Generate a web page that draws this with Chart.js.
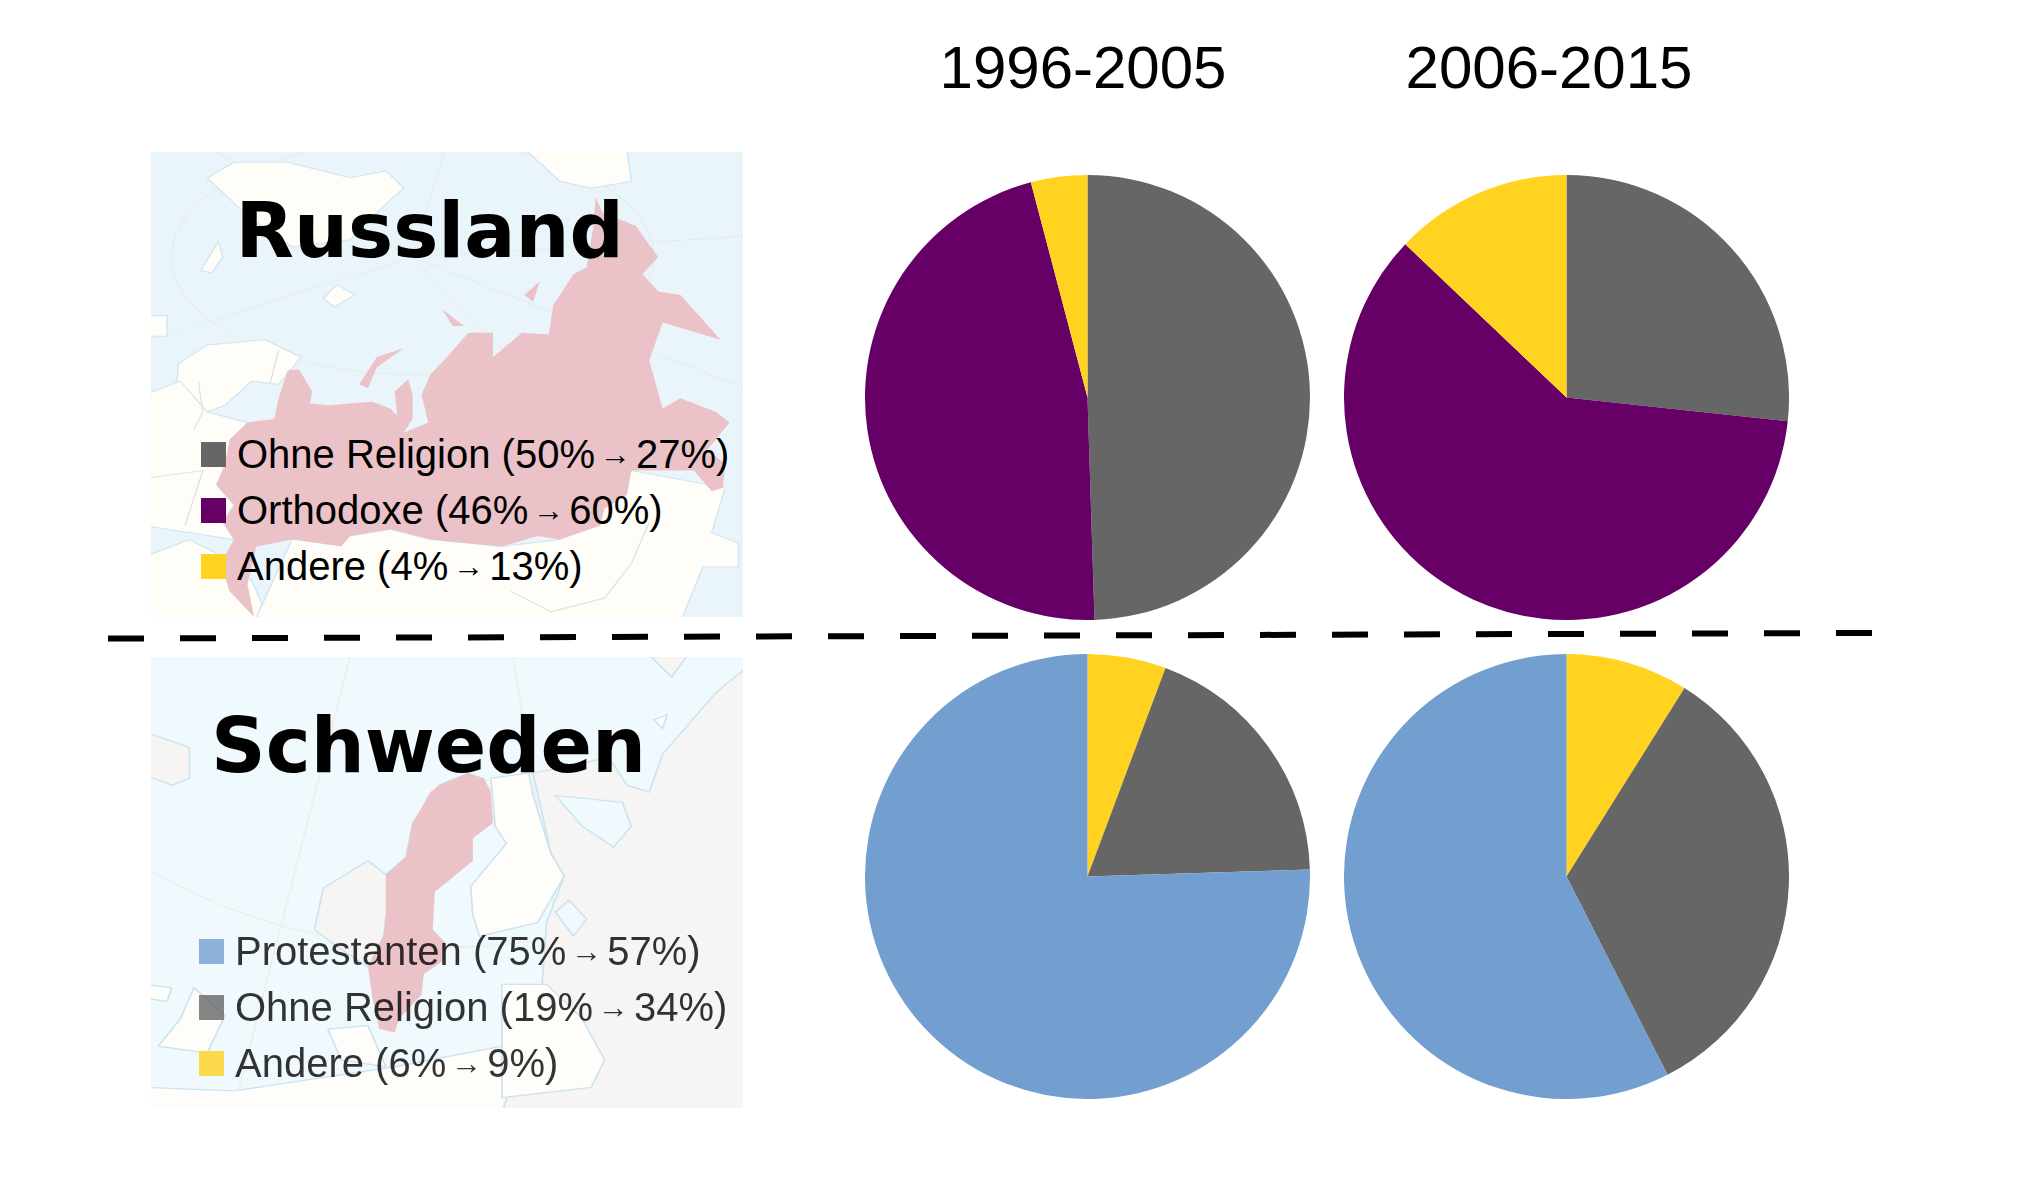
<!DOCTYPE html>
<html>
<head>
<meta charset="utf-8">
<script src="https://cdn.jsdelivr.net/npm/chart.js@4"></script>
<style>
  html, body { margin: 0; background: #fff; }
  #page { position: relative; width: 2022px; height: 1185px; overflow: hidden; font-family: "Liberation Sans", sans-serif; }
  .map { position: absolute; left: 151px; width: 592px; }
  #mapRu { top: 152px; height: 465px; }
  #mapSe { top: 657px; height: 451px; }
  #legendSe { opacity: 0.8; }
  .pie { position: absolute; }
  .period { position: absolute; top: 31px; font-size: 60px; line-height: 74px; width: 400px; text-align: center; color: #000; }
  .country { position: absolute; font: bold 75.9px "DejaVu Sans"; color: #000; white-space: nowrap; }
  .row { position: absolute; font-size: 40px; line-height: 46px; white-space: nowrap; }
  .row i { position: absolute; left: -36px; top: 11px; width: 24.5px; height: 25px; }
  .arrow { font-size: 31px; margin: 0 5px; vertical-align: 3px; }
</style>
</head>
<body>
<div id="page">
  <svg class="map" id="mapRu" viewBox="114 95 1326 1350" preserveAspectRatio="none">
    <rect x="114" y="95" width="1326" height="1350" fill="#e9f5fb"/>
    <g fill="none" stroke="#e4eee9" stroke-width="3">
      <ellipse cx="700" cy="400" rx="540" ry="340"/>
      <path d="M700 400L260 95M700 400L770 95M700 400L1440 340M700 400L1440 780M700 400L114 640M700 400L1000 800"/>
    </g>
    <g fill="#fefdf8" stroke="#cfe5f0" stroke-width="3">
      <path d="M240 170L300 125L420 125L560 170L640 150L680 200L620 270L560 350L430 370L330 280Z"/>
      <path d="M950 85L1180 85L1190 180L1100 200L1030 180Z"/>
      <path d="M225 440L265 355L275 400L250 445Z"/>
      <path d="M500 520L530 480L570 510L525 545Z"/>
      <path d="M100 570L150 570L150 630L100 630Z"/>
      <path d="M175 710L240 655L370 640L450 690L400 770L340 760L280 830L240 850L200 800L170 815Z"/>
      <path d="M100 800L180 760L240 850L330 880L300 1000L260 1060L300 1120L275 1170L300 1220L100 1180Z"/>
      <path d="M100 1270L200 1220L260 1260L340 1340L380 1460L100 1460Z"/>
      <path d="M345 1460L430 1220L560 1210L650 1190L740 1220L900 1240L1030 1220L1190 1020L1400 1070L1370 1200L1430 1230L1430 1300L1350 1300L1300 1460Z"/>
    </g>
    <g fill="none" stroke="#e3e0da" stroke-width="3">
      <path d="M220 760L230 850L210 900M400 670L380 770M114 1040L230 1020L190 1180M920 1370L1010 1430L1130 1390L1190 1290L1230 1170"/>
    </g>
    <path fill="#ebc2c8" d="M345 1445L290 1370L270 1290L300 1220L275 1170L300 1120L260 1060L280 1000L290 930L330 880L390 870L400 810L420 730L445 725L475 790L470 825L510 830L610 820L650 840L665 860L660 790L690 755L700 800L700 870L680 910L735 880L720 800L740 740L770 700L825 620L880 620L880 690L945 620L1005 625L1015 540L1060 450L1090 430L1105 310L1110 225L1125 270L1200 310L1250 400L1215 450L1250 500L1300 510L1390 640L1260 590L1230 700L1260 840L1300 810L1380 850L1410 880L1360 960L1400 1000L1395 1070L1370 1080L1330 1020L1190 1020L1180 1090L1130 1130L1120 1180L1030 1220L980 1210L900 1240L740 1220L650 1190L560 1210L540 1240L430 1220L350 1240L330 1350Z"/>
    <path fill="#ebc2c8" d="M580 770L620 690L680 665L620 720L600 780Z M765 550L815 600L790 600Z M950 510L985 470L970 530Z"/>
  </svg>
  <svg class="map" id="mapSe" viewBox="114 47 1326 1313" preserveAspectRatio="none">
    <rect x="114" y="47" width="1326" height="1313" fill="#f0f9fd"/>
    <g fill="none" stroke="#eeeeea" stroke-width="4">
      <path d="M114 670Q700 1100 1440 700M560 47L300 1360M925 47L1090 1360"/>
    </g>
    <g fill="#f6f5f3" stroke="#cde4f0" stroke-width="4">
      <path d="M970 385L1140 340L1180 420L1230 440L1260 330L1380 150L1455 70L1455 1375L900 1375L990 1000L1000 820L1040 685L1010 620Z"/>
      <path d="M100 265L200 310L200 400L160 420L100 390Z"/>
      <path d="M1225 35L1320 35L1280 105Z"/>
      <path d="M825 385L760 420L700 530L685 630L640 680L600 640L500 720L480 840L520 880L600 950L635 860L640 800Z"/>
    </g>
    <g fill="#fefdf9" stroke="#cde4f0" stroke-width="4">
      <path d="M875 400L960 385L970 450L1010 620L1040 685L980 820L850 860L835 800L830 715L910 590L885 540Z"/>
      <path d="M210 1010L280 1090L240 1200L130 1180L180 1100Z"/>
      <path d="M100 1000L160 1010L150 1050L100 1040Z"/>
      <path d="M100 1300L300 1310L660 1240L900 1180L990 1000L900 1375L100 1375Z"/>
      <path d="M510 1130L600 1120L640 1240L540 1220Z"/>
      <path d="M900 1000L1000 1000L1080 1100L1130 1220L1100 1300L900 1330Z"/>
      <path d="M1240 230L1270 215L1260 255Z"/>
      <path d="M1020 790L1050 755L1090 810L1060 860Z" fill="#f0f9fd"/>
      <path d="M1020 450L1170 470L1190 540L1150 600L1080 540Z" fill="#f0f9fd"/>
    </g>
    <path fill="#ebc2c8" d="M825 385L860 400L875 440L880 530L835 575L835 640L765 715L750 730L745 840L775 880L770 930L725 970L720 1030L670 1100L660 1140L625 1130L610 1040L600 950L635 860L640 800L640 680L685 630L700 530L740 440L760 420Z"/>
  </svg>
  <div id="legendRu"></div>
  <div id="legendSe"></div>
  <div class="country" style="left:235.5px;top:187px">Russland</div>
  <div class="country" style="left:211px;top:702px">Schweden</div>
  <div class="period" style="left:883px">1996-2005</div>
  <div class="period" style="left:1349px">2006-2015</div>
  <canvas class="pie" id="ruEarly" width="445" height="445" style="left:865px;top:175px"></canvas>
  <canvas class="pie" id="ruLate" width="445" height="445" style="left:1344px;top:175px"></canvas>
  <canvas class="pie" id="seEarly" width="445" height="445" style="left:865px;top:654px"></canvas>
  <canvas class="pie" id="seLate" width="445" height="445" style="left:1344px;top:654px"></canvas>
  <svg style="position:absolute;left:0;top:0" width="2022" height="1185">
    <line x1="108" y1="638.5" x2="1872" y2="633" stroke="#000" stroke-width="6" stroke-dasharray="36 36"/>
  </svg>
</div>
<script>
const grey = '#666666', purple = '#660066', yellow = '#ffd320', blue = '#729fcf';

const ruLabels = ['Ohne Religion', 'Orthodoxe', 'Andere'];
const ruColors = [grey, purple, yellow];
const ruStartText = ['50%', '46%', '4%'];
const ruEndText = ['27%', '60%', '13%'];
const ruEarlyValues = [49.5, 46.4, 4.1];
const ruLateValues = [26.7, 60.4, 12.9];

// pies start with yellow at the top, the legend lists it last
const seLabels = ['Protestanten', 'Ohne Religion', 'Andere'];
const seLegendColors = [blue, grey, yellow];
const seStartText = ['75%', '19%', '6%'];
const seEndText = ['57%', '34%', '9%'];
const sePieLabels = ['Andere', 'Ohne Religion', 'Protestanten'];
const sePieColors = [yellow, grey, blue];
const seEarlyValues = [5.7, 18.8, 75.5];
const seLateValues = [8.9, 33.6, 57.5];

function drawPie(id, labels, values, colors) {
  new Chart(document.getElementById(id), {
    type: 'pie',
    data: { labels: labels, datasets: [{ data: values, backgroundColor: colors, borderWidth: 0 }] },
    options: {
      responsive: false,
      animation: false,
      devicePixelRatio: 1,
      plugins: { legend: { display: false }, tooltip: { enabled: false } }
    }
  });
}

function drawLegend(id, labels, colors, startText, endText, left, top) {
  const box = document.getElementById(id);
  labels.forEach((label, i) => {
    const row = document.createElement('div');
    row.className = 'row';
    row.style.left = left + 'px';
    row.style.top = (top + i * 56) + 'px';
    row.innerHTML = `<i style="background:${colors[i]}"></i>${label} (${startText[i]}<span class="arrow">→</span>${endText[i]})`;
    box.appendChild(row);
  });
}

drawLegend('legendRu', ruLabels, ruColors, ruStartText, ruEndText, 237, 431);
drawLegend('legendSe', seLabels, seLegendColors, seStartText, seEndText, 235, 928);

drawPie('ruEarly', ruLabels, ruEarlyValues, ruColors);
drawPie('ruLate', ruLabels, ruLateValues, ruColors);
drawPie('seEarly', sePieLabels, seEarlyValues, sePieColors);
drawPie('seLate', sePieLabels, seLateValues, sePieColors);
</script>
</body>
</html>
